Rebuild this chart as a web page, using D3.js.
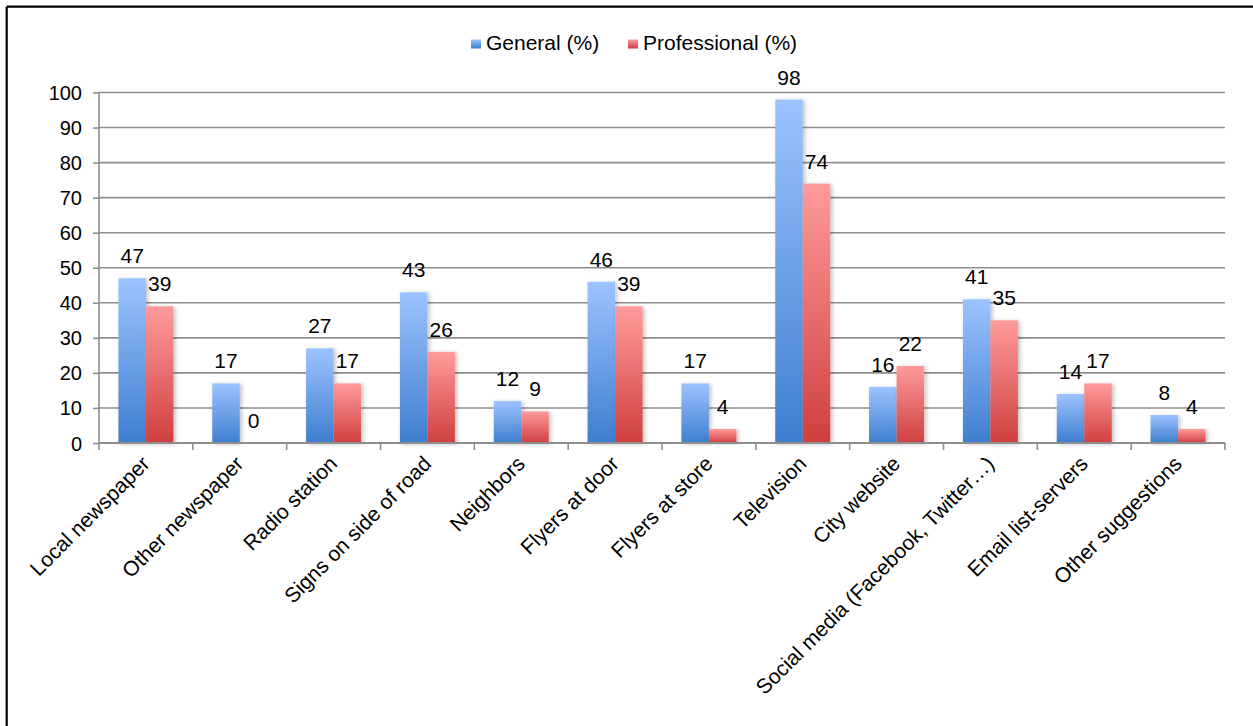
<!DOCTYPE html>
<html><head><meta charset="utf-8">
<script src="https://cdn.jsdelivr.net/npm/d3@7"></script>
<style>body{margin:0;background:#fff}svg{display:block;font-family:"Liberation Sans",Arial,sans-serif}</style>
</head><body><svg id="c" width="1253" height="726"></svg>
<script>
const categories = ["Local newspaper","Other newspaper","Radio station","Signs on side of road","Neighbors","Flyers at door","Flyers at store","Television","City website","Social media (Facebook, Twitter\u2026)","Email list-servers","Other suggestions"];
const seriesNames = ["General (%)","Professional (%)"];
const general = [47,17,27,43,12,46,17,98,16,41,14,8];
const professional = [39,0,17,26,9,39,4,74,22,35,17,4];
const yTicks = [0,10,20,30,40,50,60,70,80,90,100];

const svg = d3.select("#c");
const defs = svg.append("defs");
function grad(id, top, bottom){
  const g = defs.append("linearGradient").attr("id",id).attr("x1",0).attr("y1",0).attr("x2",0).attr("y2",1);
  g.append("stop").attr("offset","0%").attr("stop-color",top);
  g.append("stop").attr("offset","100%").attr("stop-color",bottom);
}
grad("gBlue","#9dc3ff","#3e7ecf");
grad("gRed","#ff9b9b","#cf3f3f");
const f = defs.append("filter").attr("id","sh").attr("x","-20%").attr("y","-5%").attr("width","150%").attr("height","115%");
f.append("feDropShadow").attr("dx",2).attr("dy",1).attr("stdDeviation",2).attr("flood-color","#000").attr("flood-opacity",0.25);

// frame
svg.append("line").attr("x1",6.7).attr("x2",1253).attr("y1",6.7).attr("y2",6.7).attr("stroke","#000").attr("stroke-width",2.2);
svg.append("line").attr("x1",6.7).attr("x2",6.7).attr("y1",6.7).attr("y2",726).attr("stroke","#000").attr("stroke-width",2.2);

const L=99, R=1225, T=92.5, B=443;
const y = d3.scaleLinear().domain([0,100]).range([B,T]);
const x0 = d3.scaleBand().domain(categories).range([L,R]).padding(0);
const x1 = d3.scaleBand().domain(seriesNames).range([0,x0.bandwidth()]).paddingInner(0).paddingOuter(0.706);
const gridC = "#8e8e8e";

// gridlines
svg.append("g").selectAll("line").data(yTicks.filter(d=>d>0)).join("line")
  .attr("x1",L).attr("x2",R).attr("y1",d=>y(d)).attr("y2",d=>y(d))
  .attr("stroke",gridC).attr("stroke-width",1.6);

// y axis
const ya = svg.append("g").attr("transform",`translate(${L},0)`)
  .call(d3.axisLeft(y).tickValues(yTicks).tickSize(6).tickPadding(11).tickFormat(d3.format("d")));
ya.select(".domain").attr("stroke",gridC).attr("stroke-width",1.6).attr("d",`M0,${T}V${B}`);
ya.selectAll(".tick line").attr("stroke",gridC).attr("stroke-width",1.6);
ya.selectAll(".tick text").attr("font-size",20).attr("fill","#000").attr("font-family","Liberation Sans, Arial, sans-serif").attr("dy","0.35em");

// bars
const data = categories.map((c,i)=>({c, vals:[{s:seriesNames[0],v:general[i]},{s:seriesNames[1],v:professional[i]}]}));
const groups = svg.append("g").selectAll("g").data(data).join("g").attr("transform",d=>`translate(${x0(d.c)},0)`);
groups.selectAll("rect").data(d=>d.vals.filter(e=>e.v>0)).join("rect")
  .attr("x",d=>x1(d.s)).attr("width",x1.bandwidth())
  .attr("y",d=>y(d.v)).attr("height",d=>B-y(d.v))
  .attr("fill",d=>d.s===seriesNames[0]?"url(#gBlue)":"url(#gRed)")
  .attr("filter","url(#sh)");
groups.selectAll("text").data(d=>d.vals).join("text")
  .attr("x",d=>x1(d.s)+x1.bandwidth()/2).attr("y",d=>y(d.v)-15)
  .attr("text-anchor","middle").attr("font-size",21).attr("fill","#000").text(d=>d.v);

// x axis
svg.append("line").attr("x1",L).attr("x2",R).attr("y1",B).attr("y2",B).attr("stroke",gridC).attr("stroke-width",1.8);
const bounds = categories.map(c=>x0(c)).concat([R]);
svg.append("g").selectAll("line").data(bounds).join("line")
  .attr("x1",d=>d).attr("x2",d=>d).attr("y1",B).attr("y2",B+7).attr("stroke",gridC).attr("stroke-width",1.6);
svg.append("g").selectAll("text").data(categories).join("text")
  .attr("transform",c=>`translate(${x0(c)+x0.bandwidth()/2+5},${B+22}) rotate(-45)`)
  .attr("text-anchor","end").attr("font-size",21).attr("fill","#000").text(c=>c);

// legend
const leg = svg.append("g");
const legItems = [{n:seriesNames[0],g:"url(#gBlue)",x:471},{n:seriesNames[1],g:"url(#gRed)",x:628}];
legItems.forEach(it=>{
  leg.append("rect").attr("x",it.x).attr("y",39.5).attr("width",10).attr("height",9).attr("fill",it.g);
  leg.append("text").attr("x",it.x+15).attr("y",50).attr("font-size",21).attr("fill","#000").text(it.n);
});
</script></body></html>
